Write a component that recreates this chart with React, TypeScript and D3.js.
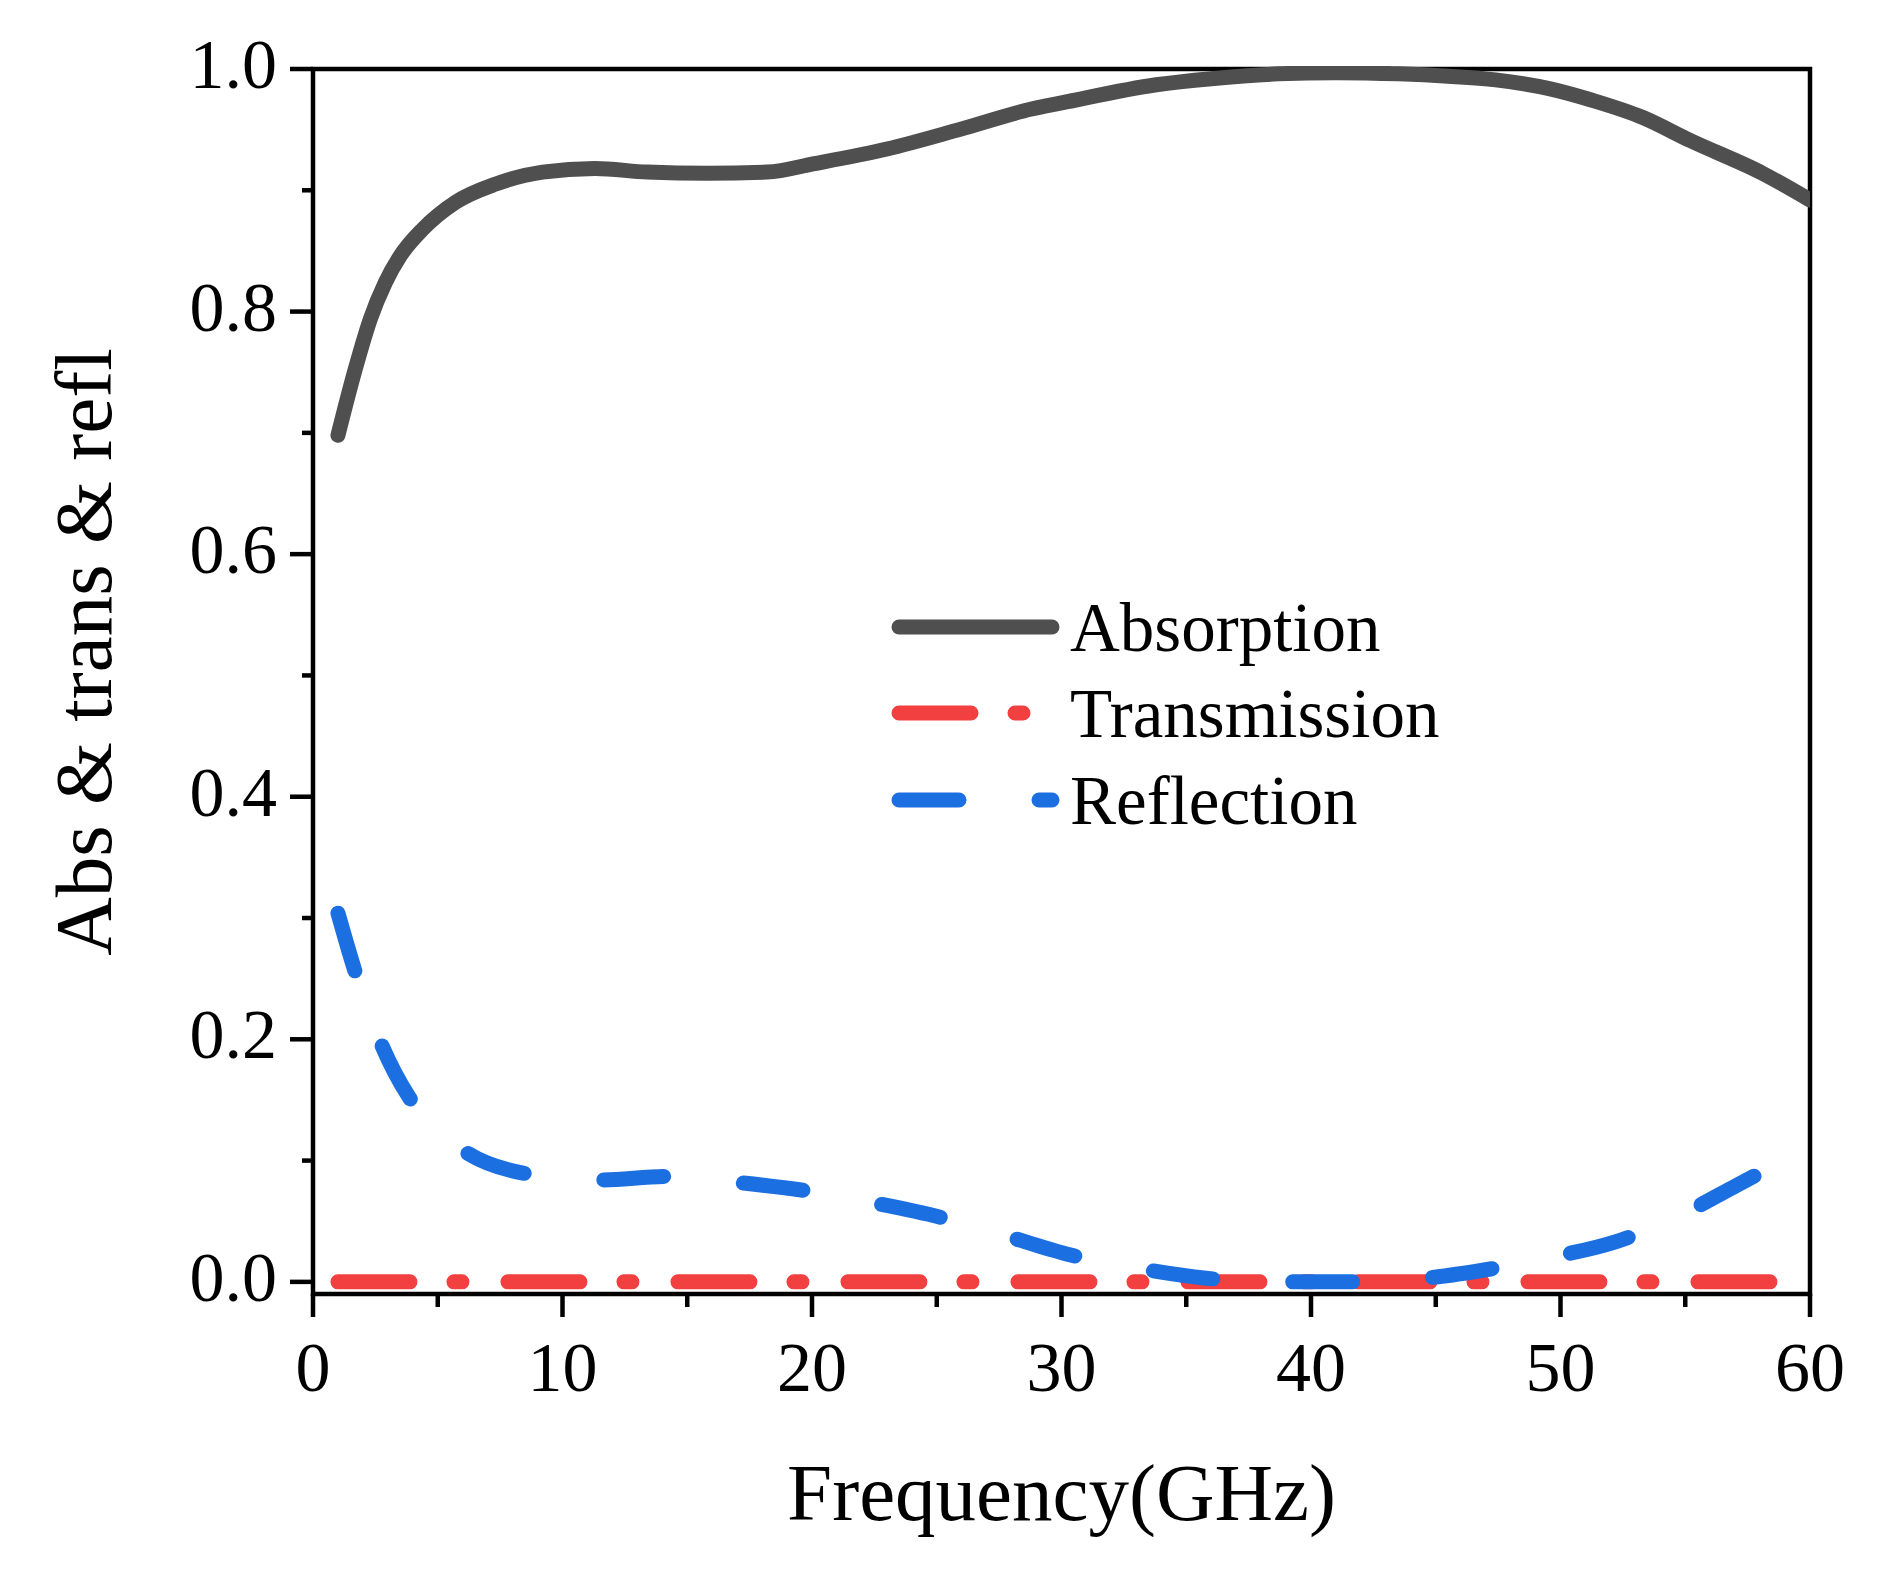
import React from 'react';
import * as d3 from 'd3';

// Absorption curve
const absFreq = [1, 1.7, 2.3, 2.9, 3.5, 4.4, 5.7, 7.3, 9.2, 11.3, 13.4, 15.8, 18.2, 20.1, 23, 25.9, 28.8, 30, 33.8, 36, 38.7, 41, 43.5, 45.5, 47.4, 49.5, 51.3, 53.3, 55.2, 58.1, 60];
const absValues = [0.698, 0.753, 0.794, 0.824, 0.846, 0.868, 0.89, 0.905, 0.915, 0.918, 0.915, 0.914, 0.915, 0.922, 0.934, 0.95, 0.967, 0.972, 0.987, 0.992, 0.996, 0.997, 0.996, 0.994, 0.991, 0.984, 0.974, 0.96, 0.941, 0.914, 0.892];

// Transmission stays at zero over the band
const transFreq = [1, 10, 20, 30, 40, 50, 60];
const transValues = [0, 0, 0, 0, 0, 0, 0];

// Reflection curve
const reflFreq = [1, 1.67, 2.74, 3.83, 5, 6.2, 8.6, 11.4, 14.3, 17, 19.8, 22.5, 25.2, 27.6, 30.2, 33.1, 35.8, 38.4, 41.1, 44.5, 47.3, 49.8, 52.2, 54.9, 57.1, 59.6];
const reflValues = [0.304, 0.257, 0.196, 0.153, 0.125, 0.106, 0.089, 0.084, 0.087, 0.082, 0.075, 0.065, 0.053, 0.039, 0.023, 0.011, 0.003, 0, 0, 0.003, 0.011, 0.021, 0.033, 0.056, 0.08, 0.107];

const xMajor = [0, 10, 20, 30, 40, 50, 60];
const xMinor = [5, 15, 25, 35, 45, 55];
const yMajor = [0, 0.2, 0.4, 0.6, 0.8, 1.0];
const yMinor = [0.1, 0.3, 0.5, 0.7, 0.9];

const seriesNames = ['Absorption', 'Transmission', 'Reflection'];

const W = 1882;
const H = 1571;
const plot = { left: 313, right: 1810, top: 69, bottom: 1294 };
const FONT = '"Liberation Serif", "Times New Roman", serif';

const styles = [
  { color: '#4f4f4f', dash: 'none' },
  { color: '#f23f3f', dash: '72 44 8 46' },
  { color: '#1b6fe0', dash: '60 80' },
];

export default function App() {
  const x = d3.scaleLinear().domain([0, 60]).range([plot.left, plot.right]);
  const y = d3.scaleLinear().domain([-0.01, 1]).range([plot.bottom, plot.top]);

  const line = d3
    .line<[number, number]>()
    .x((d) => x(d[0]))
    .y((d) => y(d[1]))
    .curve(d3.curveMonotoneX);

  const series = [
    absFreq.map((f, i) => [f, absValues[i]] as [number, number]),
    transFreq.map((f, i) => [f, transValues[i]] as [number, number]),
    reflFreq.map((f, i) => [f, reflValues[i]] as [number, number]),
  ];

  const fmt = d3.format('.1f');
  const legendX0 = 899;
  const legendX1 = 1052;
  const legendY = [627, 713, 800];

  return (
    <svg
      width={W}
      height={H}
      style={{ position: 'absolute', left: 0, top: 0, background: '#fff' }}
      fontFamily={FONT}
    >
      <defs>
        <clipPath id="plotClip">
          <rect x={plot.left - 2} y={plot.top - 3} width={plot.right - plot.left + 2} height={plot.bottom - plot.top + 3} />
        </clipPath>
      </defs>

      {/* frame */}
      <rect
        x={plot.left}
        y={plot.top}
        width={plot.right - plot.left}
        height={plot.bottom - plot.top}
        fill="none"
        stroke="#000"
        strokeWidth={4.5}
      />

      {/* x ticks */}
      {xMajor.map((t) => (
        <g key={`xm-${t}`}>
          <line x1={x(t)} x2={x(t)} y1={plot.bottom} y2={plot.bottom + 23} stroke="#000" strokeWidth={4.5} />
          <text x={x(t)} y={1391} fontSize={70} textAnchor="middle" fill="#000">
            {t}
          </text>
        </g>
      ))}
      {xMinor.map((t) => (
        <line key={`xn-${t}`} x1={x(t)} x2={x(t)} y1={plot.bottom} y2={plot.bottom + 13} stroke="#000" strokeWidth={4.5} />
      ))}

      {/* y ticks */}
      {yMajor.map((t) => (
        <g key={`ym-${t}`}>
          <line x1={plot.left} x2={plot.left - 23} y1={y(t)} y2={y(t)} stroke="#000" strokeWidth={4.5} />
          <text x={277} y={y(t) + 19} fontSize={70} textAnchor="end" fill="#000">
            {fmt(t)}
          </text>
        </g>
      ))}
      {yMinor.map((t) => (
        <line key={`yn-${t}`} x1={plot.left} x2={plot.left - 11} y1={y(t)} y2={y(t)} stroke="#000" strokeWidth={4.5} />
      ))}

      {/* axis titles */}
      <text x={(plot.left + plot.right) / 2} y={1520} fontSize={81} textAnchor="middle" fill="#000">
        Frequency(GHz)
      </text>
      <text transform="translate(111,652) rotate(-90)" fontSize={81} textAnchor="middle" fill="#000">
        Abs &amp; trans &amp; refl
      </text>

      {/* curves */}
      <g clipPath="url(#plotClip)">
        {series.map((s, i) => (
          <path
            key={seriesNames[i]}
            d={line(s) ?? ''}
            fill="none"
            stroke={styles[i].color}
            strokeWidth={15}
            strokeDasharray={styles[i].dash}
            strokeLinecap="round"
            strokeLinejoin="round"
          />
        ))}
      </g>

      {/* legend */}
      {seriesNames.map((name, i) => (
        <g key={`lg-${name}`}>
          <line
            x1={legendX0}
            x2={legendX1}
            y1={legendY[i]}
            y2={legendY[i]}
            stroke={styles[i].color}
            strokeWidth={15}
            strokeDasharray={styles[i].dash}
            strokeLinecap="round"
          />
          <text x={1070} y={legendY[i] + 24} fontSize={69} fill="#000">
            {name}
          </text>
        </g>
      ))}
    </svg>
  );
}
